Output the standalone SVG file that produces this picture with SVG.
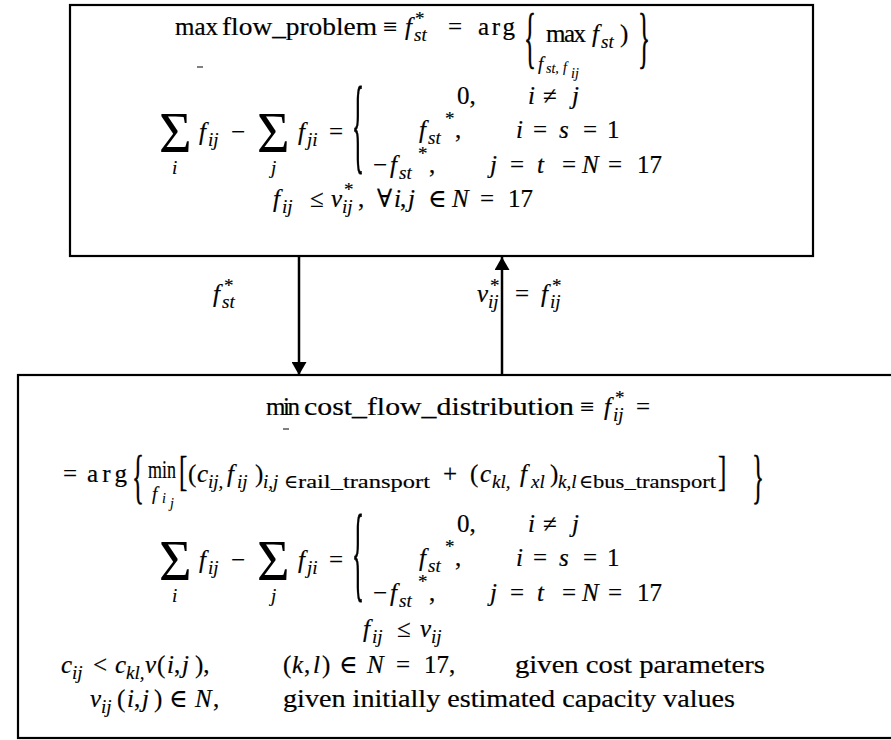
<svg xmlns="http://www.w3.org/2000/svg" width="891" height="740" viewBox="0 0 891 740">
<style>
text{font-family:"Liberation Serif","Times New Roman","DejaVu Serif",serif;fill:#000;font-size:25px;stroke:#000;stroke-width:0.2}
.s{font-size:19px;stroke-width:0.15}
.ss{font-size:14px;stroke-width:0.12}
.i{font-style:italic}
.sg{font-size:56px;stroke-width:0}
.box{fill:#fff;stroke:#000;stroke-width:2.2}
.con{stroke:#000;stroke-width:2.5;fill:none}
.dash{stroke:#000;stroke-width:1}
</style>
<defs>
<marker id="ah" viewBox="0 0 13 15" refX="13" refY="7.5" markerWidth="13" markerHeight="15" markerUnits="userSpaceOnUse" orient="auto"><path d="M0,0L13,7.5L0,15z" fill="#000"/></marker>
</defs>
<rect width="891" height="740" fill="#fff"/>

<g id="max-flow-problem">
<rect class="box" x="70" y="5" width="743" height="251"/>
<text x="175" y="35">max</text>
<text x="222" y="35" textLength="155" lengthAdjust="spacingAndGlyphs">flow_problem</text>
<line class="dash" x1="197" y1="67" x2="203" y2="67"/>
<text x="383" y="35">≡</text>
<text class="i" x="405" y="35">f</text>
<text class="s i" x="414" y="41">st</text>
<text class="s" x="415" y="25">*</text>
<text x="448" y="35">=</text>
<text x="478" y="35" textLength="37" lengthAdjust="spacing">arg</text>
<text transform="translate(524,44) scale(1,2.7)" y="6">{</text>
<text x="546" y="42" textLength="40" lengthAdjust="spacing">max</text>
<text class="s i" x="538" y="70">f</text>
<text class="ss i" x="546" y="73">st,</text>
<text class="ss i" x="563" y="72">f</text>
<text class="ss i" x="571" y="78">ij</text>
<text class="i" x="592" y="42">f</text>
<text class="s i" x="601" y="48">st</text>
<text x="620" y="42">)</text>
<text transform="translate(638,44) scale(1,2.7)" y="6">}</text>

<text class="sg" x="159" y="152">Σ</text>
<text class="s i" x="172" y="174">i</text>
<text class="i" x="199" y="140">f</text>
<text class="s i" x="208" y="146">ij</text>
<text x="231" y="140">−</text>
<text class="sg" x="257" y="152">Σ</text>
<text class="s i" x="271" y="174">j</text>
<text class="i" x="298" y="140">f</text>
<text class="s i" x="307" y="146">ji</text>
<text x="329" y="140">=</text>
<text transform="translate(352,135) scale(1,4.2)" y="6">{</text>
<text x="457" y="104">0,</text>
<text class="i" x="528" y="104">i</text>
<text x="543" y="104">≠</text>
<text class="i" x="572" y="104">j</text>
<text class="i" x="419" y="138">f</text>
<text class="s i" x="428" y="144">st</text>
<text class="s" x="445" y="125">*</text>
<text x="455" y="138">,</text>
<text class="i" x="516" y="138">i</text>
<text x="533" y="138">=</text>
<text class="i" x="559" y="138">s</text>
<text x="583" y="138">=</text>
<text x="607" y="138">1</text>
<text x="373" y="173">−</text>
<text class="i" x="390" y="173">f</text>
<text class="s i" x="399" y="179">st</text>
<text class="s" x="418" y="160">*</text>
<text x="429" y="173">,</text>
<text class="i" x="490" y="173">j</text>
<text x="510" y="173">=</text>
<text class="i" x="537" y="173">t</text>
<text x="562" y="173">=</text>
<text class="i" x="582" y="173">N</text>
<text x="608" y="173">=</text>
<text x="637" y="173">17</text>

<text class="i" x="273" y="207">f</text>
<text class="s i" x="282" y="213">ij</text>
<text x="310" y="207">≤</text>
<text class="i" x="331" y="207">v</text>
<text class="s i" x="342" y="213">ij</text>
<text class="s" x="344" y="196">*</text>
<text x="358" y="207">,</text>
<text x="377" y="207">∀</text>
<text class="i" x="394" y="207">i</text>
<text x="400" y="207">,</text>
<text class="i" x="408" y="207">j</text>
<text x="428" y="207">∈</text>
<text class="i" x="452" y="207">N</text>
<text x="480" y="207">=</text>
<text x="508" y="207">17</text>
</g>

<g id="connectors">
<line class="con" x1="299" y1="257" x2="299" y2="375" marker-end="url(#ah)"/>
<line class="con" x1="502" y1="375" x2="502" y2="257" marker-end="url(#ah)"/>
<g id="label-fst">
<text class="i" x="213" y="302">f</text>
<text class="s i" x="222" y="308">st</text>
<text class="s" x="224" y="292">*</text>
</g>
<g id="label-vij">
<text class="i" x="477" y="302">v</text>
<text class="s i" x="488" y="308">ij</text>
<text class="s" x="490" y="292">*</text>
<text x="515" y="302">=</text>
<text class="i" x="541" y="302">f</text>
<text class="s i" x="550" y="308">ij</text>
<text class="s" x="552" y="292">*</text>
</g>
</g>

<g id="min-cost-flow-distribution">
<rect class="box" x="18" y="375" width="900" height="363"/>
<text x="266" y="415" textLength="34" lengthAdjust="spacing">min</text>
<text x="304" y="415" textLength="270" lengthAdjust="spacingAndGlyphs">cost_flow_distribution</text>
<line class="dash" x1="283" y1="429" x2="289" y2="429"/>
<text x="580" y="415">≡</text>
<text class="i" x="604" y="415">f</text>
<text class="s i" x="613" y="421">ij</text>
<text class="s" x="615" y="404">*</text>
<text x="636" y="415">=</text>

<text x="63" y="482">=</text>
<text x="87" y="482" textLength="40" lengthAdjust="spacing">arg</text>
<text transform="translate(132,481.5) scale(1,2.35)" y="6">{</text>
<text x="148" y="478" textLength="28" lengthAdjust="spacingAndGlyphs">min</text>
<text class="s i" x="152" y="500">f</text>
<text class="ss i" x="162" y="503">i</text>
<text class="ss i" x="170" y="508">j</text>
<text transform="translate(179,474.5) scale(1,1.7)" y="6.3">[</text>
<text x="188" y="482">(</text>
<text class="i" x="197" y="482">c</text>
<text class="s i" x="208" y="488">ij,</text>
<text class="i" x="227" y="482">f</text>
<text class="s i" x="237" y="488">ij</text>
<text x="255" y="482">)</text>
<text class="s i" x="263" y="488">i,j</text>
<text class="s" x="284" y="488">∈</text>
<text class="s" x="298" y="488" textLength="132" lengthAdjust="spacingAndGlyphs">rail_transport</text>
<text x="443" y="482">+</text>
<text x="470" y="482">(</text>
<text class="i" x="480" y="482">c</text>
<text class="s i" x="492" y="488">kl,</text>
<text class="i" x="520" y="482">f</text>
<text class="s i" x="531" y="488">xl</text>
<text x="550" y="482">)</text>
<text class="s i" x="558" y="488">k,l</text>
<text class="s" x="579" y="488">∈</text>
<text class="s" x="593" y="488" textLength="123" lengthAdjust="spacingAndGlyphs">bus_transport</text>
<text transform="translate(718,474.5) scale(1,1.7)" y="6.3">]</text>
<text transform="translate(752,481.5) scale(1,2.35)" y="6">}</text>

<text class="sg" x="159" y="580">Σ</text>
<text class="s i" x="172" y="602">i</text>
<text class="i" x="199" y="568">f</text>
<text class="s i" x="208" y="574">ij</text>
<text x="231" y="568">−</text>
<text class="sg" x="257" y="580">Σ</text>
<text class="s i" x="271" y="602">j</text>
<text class="i" x="298" y="568">f</text>
<text class="s i" x="307" y="574">ji</text>
<text x="329" y="568">=</text>
<text transform="translate(352,563) scale(1,4.2)" y="6">{</text>
<text x="457" y="532">0,</text>
<text class="i" x="528" y="532">i</text>
<text x="543" y="532">≠</text>
<text class="i" x="572" y="532">j</text>
<text class="i" x="419" y="566">f</text>
<text class="s i" x="428" y="572">st</text>
<text class="s" x="445" y="553">*</text>
<text x="455" y="566">,</text>
<text class="i" x="516" y="566">i</text>
<text x="533" y="566">=</text>
<text class="i" x="559" y="566">s</text>
<text x="583" y="566">=</text>
<text x="607" y="566">1</text>
<text x="373" y="601">−</text>
<text class="i" x="390" y="601">f</text>
<text class="s i" x="399" y="607">st</text>
<text class="s" x="418" y="588">*</text>
<text x="429" y="601">,</text>
<text class="i" x="490" y="601">j</text>
<text x="510" y="601">=</text>
<text class="i" x="537" y="601">t</text>
<text x="562" y="601">=</text>
<text class="i" x="582" y="601">N</text>
<text x="608" y="601">=</text>
<text x="637" y="601">17</text>

<text class="i" x="363" y="637">f</text>
<text class="s i" x="372" y="643">ij</text>
<text x="397" y="637">≤</text>
<text class="i" x="420" y="637">v</text>
<text class="s i" x="431" y="643">ij</text>

<text class="i" x="61" y="673">c</text>
<text class="s i" x="72" y="679">ij</text>
<text x="93" y="673">&lt;</text>
<text class="i" x="115" y="673">c</text>
<text class="s i" x="126" y="679">kl,</text>
<text class="i" x="145" y="673">v</text>
<text x="157" y="673">(</text>
<text class="i" x="167" y="673">i</text>
<text x="174" y="673">,</text>
<text class="i" x="182" y="673">j</text>
<text x="195" y="673">),</text>
<text x="283" y="673">(</text>
<text class="i" x="292" y="673">k</text>
<text x="304" y="673">,</text>
<text class="i" x="313" y="673">l</text>
<text x="322" y="673">)</text>
<text x="339" y="673">∈</text>
<text class="i" x="367" y="673">N</text>
<text x="396" y="673">=</text>
<text x="424" y="673">17,</text>
<text x="515" y="673" textLength="250" lengthAdjust="spacingAndGlyphs">given cost parameters</text>

<text class="i" x="90" y="707">v</text>
<text class="s i" x="101" y="713">ij</text>
<text x="117" y="707">(</text>
<text class="i" x="127" y="707">i</text>
<text x="134" y="707">,</text>
<text class="i" x="142" y="707">j</text>
<text x="154" y="707">)</text>
<text x="169" y="707">∈</text>
<text class="i" x="195" y="707">N</text>
<text x="213" y="707">,</text>
<text x="283" y="707" textLength="452" lengthAdjust="spacingAndGlyphs">given initially estimated capacity values</text>
</g>
</svg>
